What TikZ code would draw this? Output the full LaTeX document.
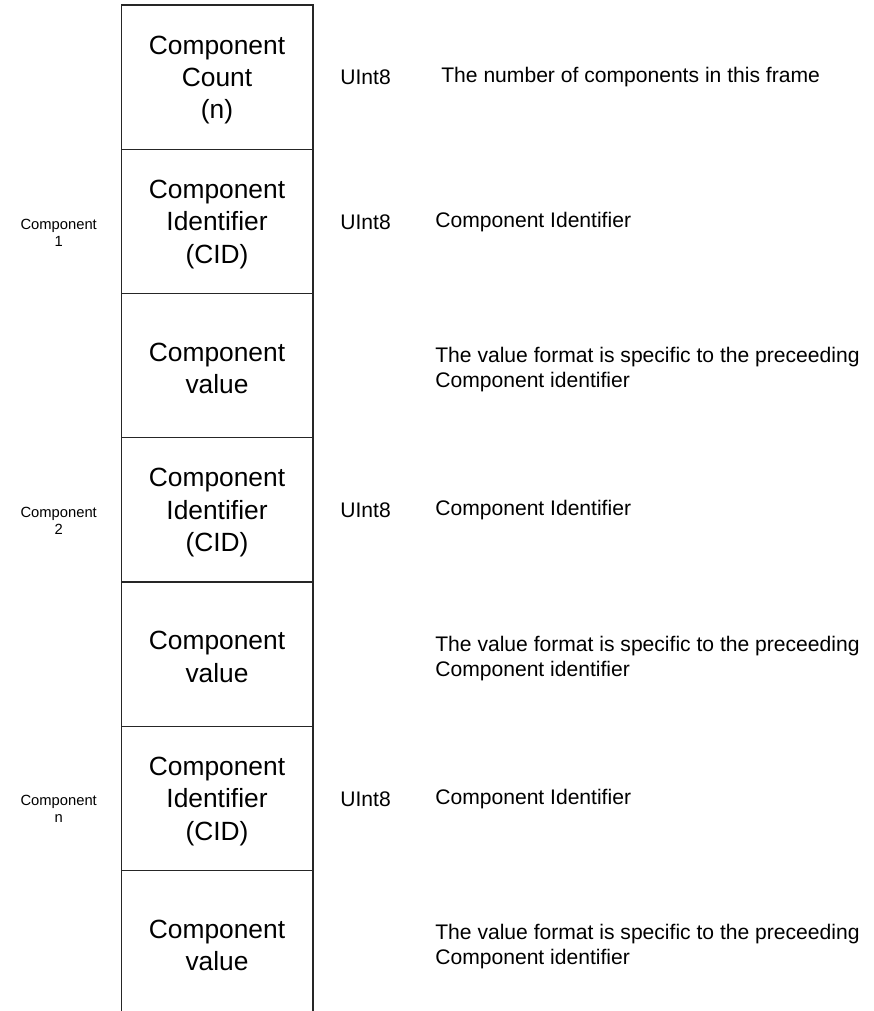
\documentclass[tikz,border=0pt]{standalone}
\usepackage{fontspec}
\setmainfont{Liberation Sans}
\usetikzlibrary{positioning}
\tikzset{
  fieldtxt/.style={align=center, font=\fontsize{15}{18.4}\selectfont},
  typetxt/.style={anchor=west, inner sep=0pt, font=\fontsize{12}{14.2}\selectfont},
  desctxt/.style={anchor=west, inner sep=0pt, align=left, font=\fontsize{12}{14.2}\selectfont},
  grouptxt/.style={align=center, inner sep=0pt, font=\fontsize{8.4}{9.6}\selectfont},
  colline/.style={line width=0.6pt, black!85}
}

\begin{document}
\begin{tikzpicture}[x=0.02cm, y=-0.02cm]
  \useasboundingbox (0,0) rectangle (874,1011);
  % frame column (open at the bottom)
  \draw[colline] (121.3,1011) -- (121.3,5) -- (313,5) -- (313,1011);
  \foreach \r in {1,...,6}
    \draw[colline] (121.3,{5+144.25*\r}) -- (313,{5+144.25*\r});

  % fields
  \node[fieldtxt] (count) at (217,80)  {Component\\Count\\(n)};
  \node[fieldtxt] (cid1)  at (217,224.3) {Component\\Identifier\\(CID)};
  \node[fieldtxt] (val1)  at (217,368.5) {Component\\value};
  \node[fieldtxt] (cid2)  at (217,512.8) {Component\\Identifier\\(CID)};
  \node[fieldtxt] (val2)  at (217,657) {Component\\value};
  \node[fieldtxt] (cidn)  at (217,801.3) {Component\\Identifier\\(CID)};
  \node[fieldtxt] (valn)  at (217,945.5) {Component\\value};

  % component groups
  \node[grouptxt] (grp1) at (58.7,233) {Component\\1};
  \node[grouptxt] (grp2) at (58.7,521) {Component\\2};
  \node[grouptxt] (grpn) at (58.7,809) {Component\\n};

  % types
  \node[typetxt] (count-type) at (340,77.5)  {UInt8};
  \node[typetxt] (cid1-type)  at (340,221.8) {UInt8};
  \node[typetxt] (cid2-type)  at (340,510.3) {UInt8};
  \node[typetxt] (cidn-type)  at (340,798.8) {UInt8};

  % descriptions
  \node[desctxt] (count-desc) at (441,77.5)  {The number of components in this frame};
  \node[desctxt] (cid1-desc)  at (435,221.8) {Component Identifier};
  \node[desctxt] (val1-desc)  at (435,370)   {The value format is specific to the preceeding\\Component identifier};
  \node[desctxt] (cid2-desc)  at (435,510.3) {Component Identifier};
  \node[desctxt] (val2-desc)  at (435,659)   {The value format is specific to the preceeding\\Component identifier};
  \node[desctxt] (cidn-desc)  at (435,798.8) {Component Identifier};
  \node[desctxt] (valn-desc)  at (435,947)   {The value format is specific to the preceeding\\Component identifier};
\end{tikzpicture}
\end{document}
